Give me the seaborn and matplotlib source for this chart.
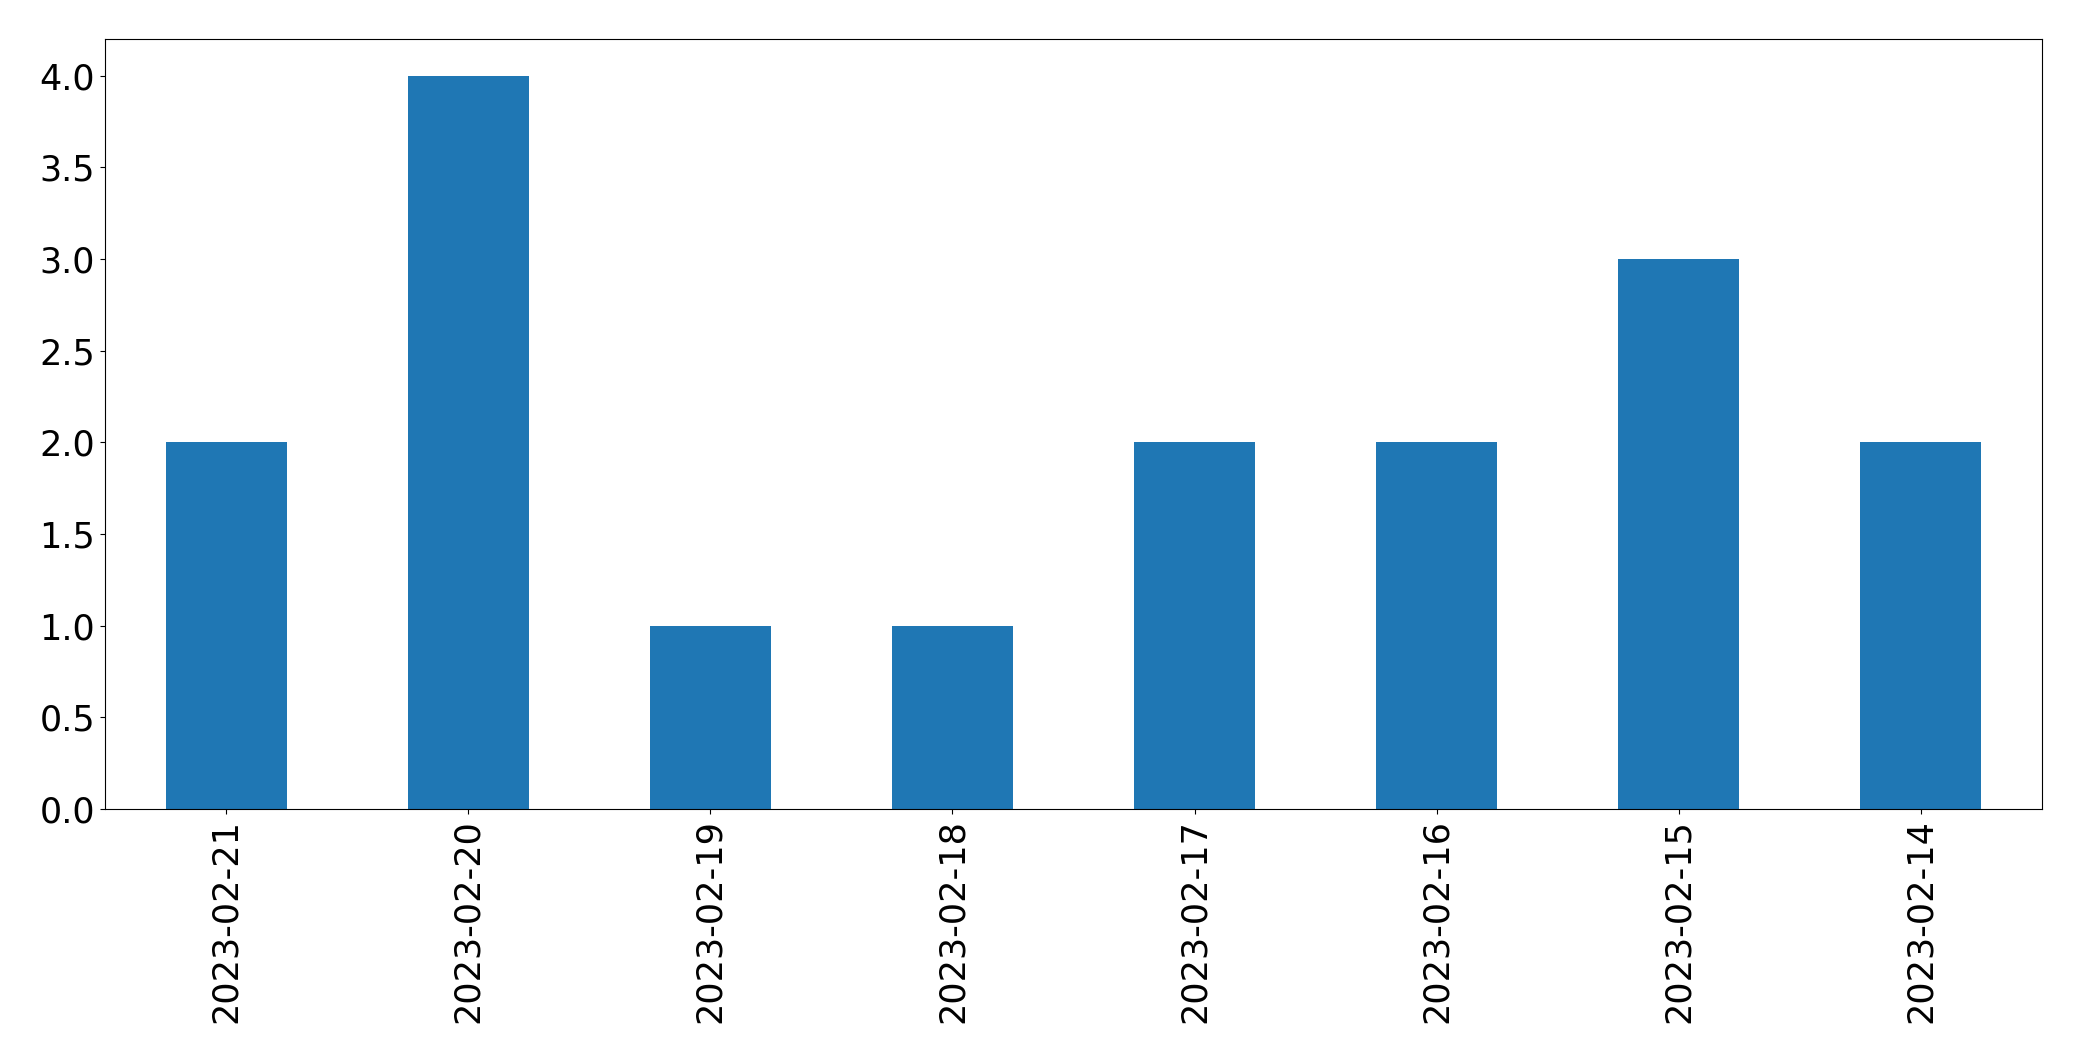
import matplotlib
matplotlib.use("Agg")
import matplotlib.pyplot as plt
import seaborn as sns
import pandas as pd

dates = ["2023-02-21", "2023-02-20", "2023-02-19", "2023-02-18",
         "2023-02-17", "2023-02-16", "2023-02-15", "2023-02-14"]
counts = [2, 4, 1, 1, 2, 2, 3, 2]

df = pd.DataFrame({"date": dates, "count": counts})

fig = plt.figure(figsize=(20.82, 10.61), dpi=100)
ax = fig.add_axes([105 / 2082, 1 - 809 / 1061, (2042 - 105) / 2082, (809 - 39) / 1061])
sns.barplot(data=df, x="date", y="count", color="#1f77b4", saturation=1,
            width=0.5, ax=ax, order=dates, linewidth=0)
ax.set_xlim(-0.5, len(dates) - 0.5)
ax.set_ylim(0, 4.2)
ax.set_xlabel("")
ax.set_ylabel("")
ax.tick_params(axis="both", labelsize=25.2)
ax.tick_params(axis="x", labelrotation=90)
for s in ax.spines.values():
    s.set_visible(True)
fig.savefig("out.png", dpi=100)
